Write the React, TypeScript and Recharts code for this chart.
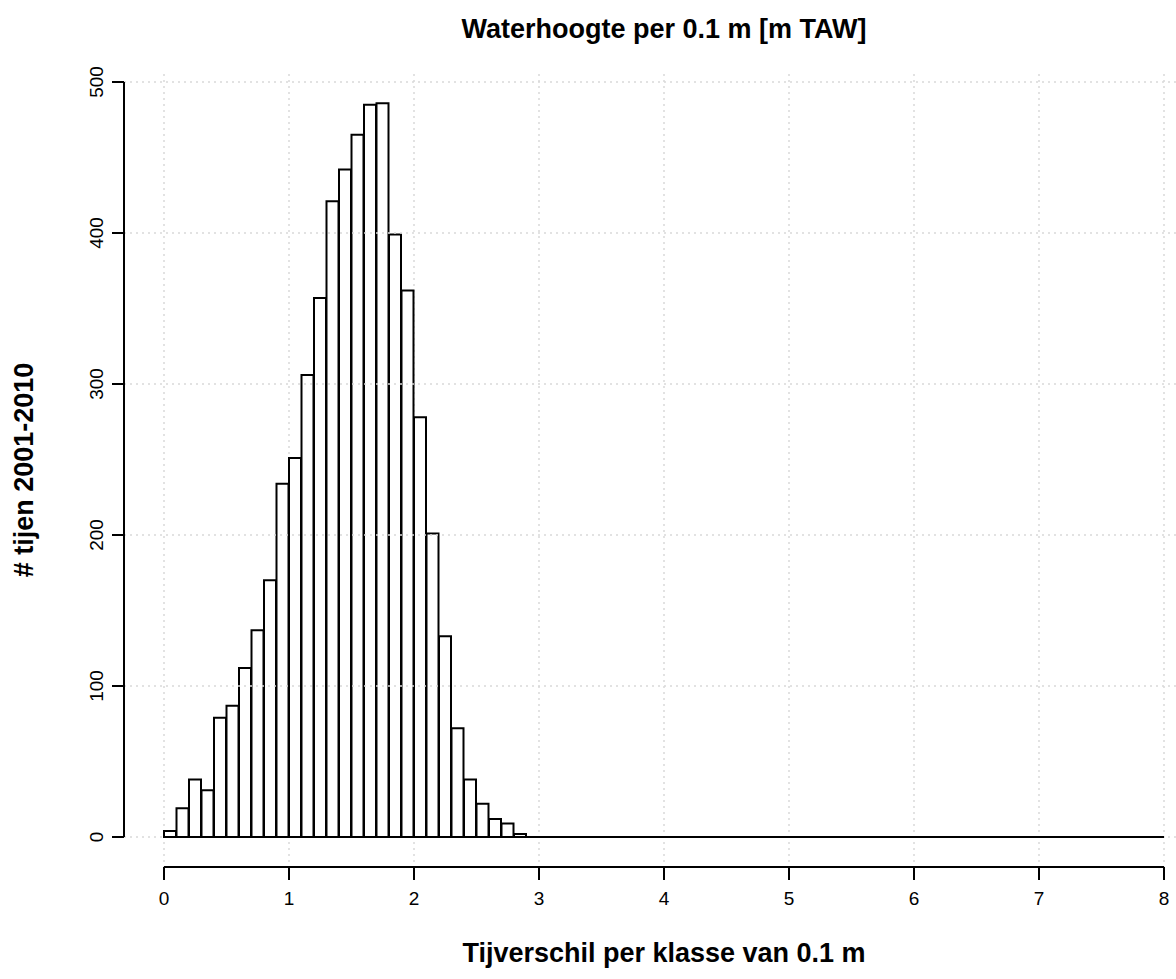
import React from 'react';
import { BarChart, Bar, XAxis, YAxis, ReferenceLine, CartesianGrid } from 'recharts';

// Histogram: counts per 0.1 m class of tidal range (bins 0.0-0.1 ... 7.9-8.0)
const BIN_WIDTH = 0.1;
const counts: number[] = [
  4, 19, 38, 31, 79, 87, 112, 137, 170, 234,
  251, 306, 357, 421, 442, 465, 485, 486, 399, 362,
  278, 201, 133, 72, 38, 22, 12, 9, 2, 0,
  0, 0, 0, 0, 0, 0, 0, 0, 0, 0,
  0, 0, 0, 0, 0, 0, 0, 0, 0, 0,
  0, 0, 0, 0, 0, 0, 0, 0, 0, 0,
  0, 0, 0, 0, 0, 0, 0, 0, 0, 0,
  0, 0, 0, 0, 0, 0, 0, 0, 0, 0,
];
const xTicks = [0, 1, 2, 3, 4, 5, 6, 7, 8];
const yTicks = [0, 100, 200, 300, 400, 500];

const TITLE = 'Waterhoogte per 0.1 m [m TAW]';
const X_LABEL = 'Tijverschil per klasse van 0.1 m';
const Y_LABEL = '# tijen 2001-2010';

const data = counts.map((c, i) => ({
  mid: Math.round((i * BIN_WIDTH + BIN_WIDTH / 2) * 1000) / 1000,
  count: c,
}));

const FONT = '"Liberation Sans", Arial, Helvetica, sans-serif';
const GRID = '#d9d9d9';

// axis placement (R style: axes detached at the plot-region edge)
const X_AXIS_AT = -19.87; // y value at plot-region bottom
const Y_AXIS_AT = -0.32; // x value at plot-region left

const YTick = (props: any) => {
  const { x, y, payload } = props;
  return (
    <text
      x={x}
      y={y}
      transform={`rotate(-90, ${x}, ${y})`}
      textAnchor="middle"
      fontSize={19}
      fill="#000"
      fontFamily={FONT}
    >
      {payload.value}
    </text>
  );
};

const XLabel = () => (
  <text x={664} y={962} textAnchor="middle" fontSize={27} fontWeight="bold" fill="#000" fontFamily={FONT}>
    {X_LABEL}
  </text>
);

const YLabel = () => (
  <text
    x={33}
    y={470}
    transform="rotate(-90, 33, 470)"
    textAnchor="middle"
    fontSize={27}
    fontWeight="bold"
    fill="#000"
    fontFamily={FONT}
  >
    {Y_LABEL}
  </text>
);

export default function App() {
  return (
    <div
      style={{
        position: 'absolute',
        left: 0,
        top: 0,
        width: 1176,
        height: 979,
        overflow: 'hidden',
        background: '#fff',
      }}
    >
      <div
        style={{
          position: 'absolute',
          left: 148,
          width: 1032,
          top: 12,
          textAlign: 'center',
          fontFamily: FONT,
          fontWeight: 'bold',
          fontSize: 27,
          lineHeight: '35px',
          color: '#000',
        }}
      >
        {TITLE}
      </div>
      <BarChart
        width={1176}
        height={979}
        data={data}
        margin={{ top: 74, right: 0, bottom: 52, left: 64 }}
        barCategoryGap={0}
        barGap={0}
        style={{ fontFamily: FONT }}
      >
        <CartesianGrid
          horizontal={false}
          vertical
          verticalValues={xTicks}
          stroke={GRID}
          strokeDasharray="2 4"
          strokeWidth={1.5}
        />
        <XAxis
          dataKey="mid"
          type="number"
          domain={[0, 8]}
          ticks={xTicks}
          interval={0}
          padding={{ left: 40, right: 12 }}
          height={60}
          axisLine={false}
          tickSize={13}
          tickMargin={12}
          tickLine={{ stroke: '#000', strokeWidth: 2 }}
          tick={{ fill: '#000', fontSize: 19, fontFamily: FONT }}
          label={{ content: XLabel }}
        />
        <YAxis
          type="number"
          domain={[0, 500]}
          ticks={yTicks}
          interval={0}
          padding={{ top: 8, bottom: 30 }}
          width={60}
          axisLine={false}
          tickSize={12}
          tickMargin={9}
          tickLine={{ stroke: '#000', strokeWidth: 2 }}
          tick={<YTick />}
          label={{ content: YLabel }}
        />
        <Bar dataKey="count" fill="#fff" stroke="#000" strokeWidth={2} isAnimationActive={false} />
        {yTicks.map((t) => (
          <ReferenceLine
            key={`gy${t}`}
            y={t}
            stroke={GRID}
            strokeDasharray="2 4"
            strokeWidth={1.5}
          />
        ))}
        <ReferenceLine
          segment={[{ x: 0, y: 0 }, { x: 8, y: 0 }]}
          stroke="#000"
          strokeWidth={2}
          ifOverflow="visible"
        />
        <ReferenceLine
          segment={[{ x: 0, y: X_AXIS_AT }, { x: 8, y: X_AXIS_AT }]}
          stroke="#000"
          strokeWidth={2}
          ifOverflow="visible"
        />
        <ReferenceLine
          segment={[{ x: Y_AXIS_AT, y: 0 }, { x: Y_AXIS_AT, y: 500 }]}
          stroke="#000"
          strokeWidth={2}
          ifOverflow="visible"
        />
      </BarChart>
    </div>
  );
}
